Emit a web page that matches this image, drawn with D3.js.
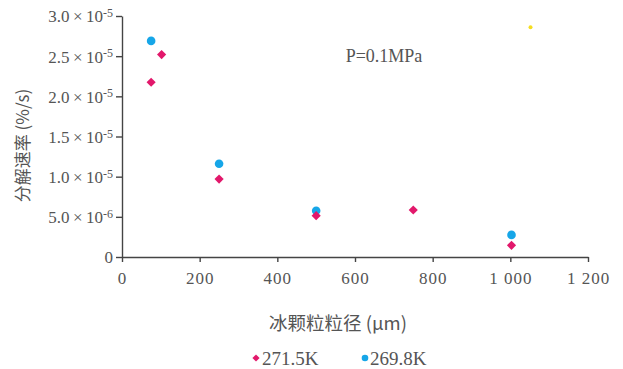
<!DOCTYPE html>
<html>
<head>
<meta charset="utf-8">
<script src="https://cdn.jsdelivr.net/npm/d3@7"></script>
<style>
  body { margin: 0; background: #fff; }
  svg text { font-family: "Liberation Serif", "Times New Roman", "DejaVu Serif", serif; fill: #555; }
  svg text.cjk { font-family: "Noto Sans CJK SC", sans-serif; }
</style>
</head>
<body>
<div id="chart"></div>
<script>
// data
const seriesNames = ['271.5K', '269.8K'];
const seriesColours = ['#e2186b', '#16a6e8'];
// 271.5K (diamonds)
const sizeA = [75, 102, 250, 500, 750, 1003];
const rateA = [2.175e-5, 2.52e-5, 9.7e-6, 5.15e-6, 5.85e-6, 1.45e-6];
// 269.8K (circles)
const sizeB = [75, 250, 500, 1003];
const rateB = [2.69e-5, 1.16e-5, 5.75e-6, 2.75e-6];
// stray yellow speck in the scan
const speckX = [1052];
const speckY = [2.86e-5];

const xTicks = [0, 200, 400, 600, 800, 1000, 1200];
const xTickLabels = ['0', '200', '400', '600', '800', '1 000', '1 200'];
const yTicks = [0, 5e-6, 1e-5, 1.5e-5, 2e-5, 2.5e-5, 3e-5];
const yMant = ['0', '5.0', '1.0', '1.5', '2.0', '2.5', '3.0'];
const yExp = ['', '-6', '-5', '-5', '-5', '-5', '-5'];

const w = 623;
const h = 369;
const margin = { top: 16, right: 35, bottom: 112, left: 122 };

const x = d3.scaleLinear().domain([0, 1200]).range([margin.left, w - margin.right]);
const y = d3.scaleLinear().domain([0, 3e-5]).range([h - margin.bottom, margin.top]);

const svg = d3.select('#chart').append('svg')
  .attr('width', w)
  .attr('height', h);

// x axis
const xAxis = d3.axisBottom(x)
  .tickValues(xTicks)
  .tickFormat((d, i) => xTickLabels[i])
  .tickSizeInner(5)
  .tickSizeOuter(0)
  .tickPadding(10);

const gx = svg.append('g')
  .attr('transform', `translate(0, ${h - margin.bottom})`)
  .call(xAxis)
  .attr('font-family', null);

// y axis
const yAxis = d3.axisLeft(y)
  .tickValues(yTicks)
  .tickFormat('')
  .tickSizeInner(6)
  .tickSizeOuter(0);

const gy = svg.append('g')
  .attr('transform', `translate(${margin.left}, 0)`)
  .call(yAxis)
  .attr('font-family', null);

svg.selectAll('.domain, .tick line')
  .attr('stroke', '#444')
  .attr('stroke-width', 1.4);

gx.selectAll('.tick text')
  .attr('font-size', 17)
  .attr('letter-spacing', 1)
  .attr('fill', '#555');

// y tick labels as mantissa x 10^exp
const yl = gy.selectAll('.tick')
  .append('text')
  .attr('x', -9)
  .attr('dy', '0.35em')
  .attr('text-anchor', 'end')
  .attr('font-size', 17)
  .attr('fill', '#555');

yl.each(function(d, i) {
  const t = d3.select(this);
  if (!yExp[i]) {
    t.text(yMant[i]);
    return;
  }
  t.append('tspan').text(yMant[i] + '\u2009\u00d7\u200910');
  t.append('tspan').attr('dy', '-0.45em').attr('font-size', 12).text(yExp[i]);
});

// axis titles
svg.append('text')
  .attr('class', 'cjk')
  .attr('transform', `translate(29, ${(margin.top + h - margin.bottom) / 2 + 9}) rotate(-90)`)
  .attr('text-anchor', 'middle')
  .attr('font-size', 17)
  .text('分解速率 (%/s)');

svg.append('text')
  .attr('class', 'cjk')
  .attr('x', 338)
  .attr('y', 330)
  .attr('text-anchor', 'middle')
  .attr('font-size', 18.5)
  .text('冰颗粒粒径 (μm)');

// annotation
svg.append('text')
  .attr('x', 384)
  .attr('y', 62)
  .attr('text-anchor', 'middle')
  .attr('font-size', 18)
  .attr('fill', '#444')
  .text('P=0.1MPa');

// speck
svg.selectAll('.speck')
  .data(speckX)
  .join('circle')
  .attr('cx', d => x(d))
  .attr('cy', (d, i) => y(speckY[i]))
  .attr('r', 2)
  .attr('fill', '#f5dd20');

// 269.8K circles
svg.selectAll('.ptB')
  .data(sizeB)
  .join('circle')
  .attr('class', 'ptB')
  .attr('cx', d => x(d))
  .attr('cy', (d, i) => y(rateB[i]))
  .attr('r', 4.3)
  .attr('fill', seriesColours[1]);

// 271.5K diamonds
const diamond = d3.symbol().type(d3.symbolSquare).size(42);
svg.selectAll('.ptA')
  .data(sizeA)
  .join('path')
  .attr('class', 'ptA')
  .attr('d', diamond)
  .attr('transform', (d, i) => `translate(${x(d)}, ${y(rateA[i])}) rotate(45)`)
  .attr('fill', seriesColours[0]);

// legend
const legendY = 358;
const legend = svg.append('g');
legend.append('path')
  .attr('d', d3.symbol().type(d3.symbolSquare).size(26))
  .attr('transform', `translate(256, ${legendY}) rotate(45)`)
  .attr('fill', seriesColours[0]);
legend.append('text')
  .attr('x', 262)
  .attr('y', legendY)
  .attr('dy', '0.35em')
  .attr('font-size', 19)
  .text(seriesNames[0]);
legend.append('circle')
  .attr('cx', 365)
  .attr('cy', legendY)
  .attr('r', 3.3)
  .attr('fill', seriesColours[1]);
legend.append('text')
  .attr('x', 370)
  .attr('y', legendY)
  .attr('dy', '0.35em')
  .attr('font-size', 19)
  .text(seriesNames[1]);
</script>
</body>
</html>
